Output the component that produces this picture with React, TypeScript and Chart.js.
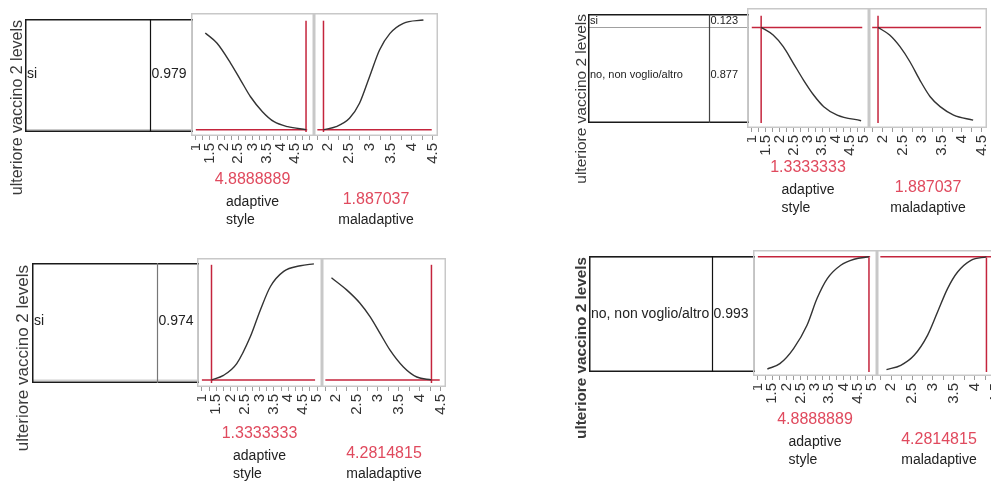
import React, { useEffect, useRef } from 'react';
import { Chart, registerables } from 'chart.js';

Chart.register(...registerables);

const FONT = "'Liberation Sans', Arial, Helvetica, sans-serif";
Chart.defaults.font.family = FONT;

// ---------- data ----------
const responseTitle = 'ulteriore vaccino 2 levels';
const levelNames = ['no, non voglio/altro', 'si'];
const adaptiveName = ['adaptive', 'style'];
const maladaptiveName = ['maladaptive'];

const adaptiveTicks = [1, 1.25, 1.5, 1.75, 2, 2.25, 2.5, 2.75, 3, 3.25, 3.5, 3.75, 4, 4.25, 4.5, 4.75, 5];
const maladaptiveTicks = [1.75, 2, 2.25, 2.5, 2.75, 3, 3.25, 3.5, 3.75, 4, 4.25, 4.5];
const adaptiveRange = [0.83, 5.17];
const maladaptiveRange = [1.66, 4.63];
const adaptiveHLine = [1.0, 4.93];
const maladaptiveHLine = [1.74, 4.48];
const vLineY = [0, 0.985];

// panel 1 (top-left)
const p1Current = ['4.8888889', '1.887037'];
const p1Probs = [0.021, 0.979];
const p1AdaptiveX = [1.333, 1.75, 2.23, 2.58, 2.93, 3.35, 3.76, 4.24, 4.889];
const p1AdaptiveY = [0.876, 0.785, 0.608, 0.46, 0.312, 0.18, 0.091, 0.047, 0.021];
const p1MaladX = [1.887, 2.19, 2.51, 2.75, 2.99, 3.23, 3.48, 3.8, 4.281];
const p1MaladY = [0.021, 0.047, 0.121, 0.254, 0.489, 0.726, 0.873, 0.962, 0.991];

// panel 2 (top-right)
const p2Current = ['1.3333333', '1.887037'];
const p2Probs = [0.877, 0.123];
const p2AdaptiveX = [1.333, 1.76, 2.12, 2.48, 2.84, 3.2, 3.56, 4.04, 4.889];
const p2AdaptiveY = [0.877, 0.807, 0.7, 0.548, 0.394, 0.257, 0.15, 0.073, 0.021];
const p2MaladX = [1.887, 2.18, 2.44, 2.69, 2.94, 3.2, 3.45, 3.79, 4.281];
const p2MaladY = [0.877, 0.807, 0.7, 0.562, 0.394, 0.241, 0.15, 0.073, 0.026];

// panel 3 (bottom-left)
const p3Current = ['1.3333333', '4.2814815'];
const p3Probs = [0.026, 0.974];
const p3AdaptiveX = [1.333, 1.75, 2.21, 2.68, 3.03, 3.38, 3.84, 4.42, 4.889];
const p3AdaptiveY = [0.026, 0.064, 0.162, 0.385, 0.609, 0.804, 0.93, 0.977, 0.993];
const p3MaladX = [1.887, 2.25, 2.57, 2.81, 3.05, 3.29, 3.61, 3.93, 4.281];
const p3MaladY = [0.877, 0.776, 0.665, 0.553, 0.414, 0.274, 0.134, 0.05, 0.026];

// panel 4 (bottom-right)
const p4Current = ['4.8888889', '4.2814815'];
const p4Probs = [0.993, 0.007];
const p4AdaptiveX = [1.333, 1.77, 2.25, 2.72, 3.07, 3.43, 3.9, 4.37, 4.889];
const p4AdaptiveY = [0.026, 0.072, 0.202, 0.403, 0.633, 0.805, 0.92, 0.972, 0.993];
const p4MaladX = [1.887, 2.23, 2.55, 2.87, 3.11, 3.35, 3.59, 3.91, 4.281];
const p4MaladY = [0.021, 0.058, 0.144, 0.316, 0.517, 0.719, 0.862, 0.963, 0.993];

// ---------- layout / styling ----------
const RED_LINE = '#c4243c';
const RED_TEXT = '#e04a5e';

const panels = [
  {
    current: p1Current, probs: p1Probs,
    curves: [[p1AdaptiveX, p1AdaptiveY], [p1MaladX, p1MaladY]],
    L: { titleX: 18, titleTop: 20, titleSize: 16, titleBold: false, boxLeft: 25, boxTop: 19, boxBottom: 132, divider: 150, dividerColor: '#111', labelSize: 14, frameTop: 13, frameBottom: 136, frames: [[191, 314], [314, 438]], textBase: 44 },
  },
  {
    current: p2Current, probs: p2Probs,
    curves: [[p2AdaptiveX, p2AdaptiveY], [p2MaladX, p2MaladY]],
    L: { titleX: 582, titleTop: 14, titleSize: 15.5, titleBold: false, boxLeft: 588, boxTop: 14, boxBottom: 123, divider: 709, dividerColor: '#444', labelSize: 11, frameTop: 8, frameBottom: 128, frames: [[747, 869], [869, 987]], textBase: 40 },
  },
  {
    current: p3Current, probs: p3Probs,
    curves: [[p3AdaptiveX, p3AdaptiveY], [p3MaladX, p3MaladY]],
    L: { titleX: 23, titleTop: 265, titleSize: 17, titleBold: false, boxLeft: 32, boxTop: 263, boxBottom: 383, divider: 157, dividerColor: '#777', labelSize: 14, frameTop: 258, frameBottom: 387, frames: [[197, 322], [322, 446]], textBase: 47 },
  },
  {
    current: p4Current, probs: p4Probs,
    curves: [[p4AdaptiveX, p4AdaptiveY], [p4MaladX, p4MaladY]],
    L: { titleX: 582, titleTop: 257, titleSize: 15.3, titleBold: true, boxLeft: 589, boxTop: 256, boxBottom: 372, divider: 712, dividerColor: '#111', labelSize: 14, frameTop: 250, frameBottom: 376, frames: [[753, 877], [877, 1001]], textBase: 44 },
  },
];

// ---------- plugins ----------
const boxPlugin = {
  id: 'boxDeco',
  afterDraw(chart: any, _args: any, o: any) {
    const { ctx, chartArea: a } = chart;
    ctx.save();
    // outer border (top, left, bottom)
    ctx.strokeStyle = '#1a1a1a';
    ctx.lineWidth = 1.5;
    ctx.beginPath();
    ctx.moveTo(a.right, a.top + 0.75);
    ctx.lineTo(a.left + 0.75, a.top + 0.75);
    ctx.lineTo(a.left + 0.75, a.bottom - 0.75);
    ctx.lineTo(a.right, a.bottom - 0.75);
    ctx.stroke();
    // divider
    ctx.strokeStyle = o.dividerColor;
    ctx.lineWidth = 1.2;
    ctx.beginPath();
    ctx.moveTo(o.dividerX + 0.5, a.top);
    ctx.lineTo(o.dividerX + 0.5, a.bottom);
    ctx.stroke();
    // level labels
    ctx.fillStyle = '#222';
    ctx.font = `${o.labelSize}px ${FONT}`;
    ctx.textBaseline = 'middle';
    ctx.textAlign = 'left';
    chart.data.datasets.forEach((ds: any, i: number) => {
      const v = ds.data[0];
      if (v < 0.05) return;
      const el = chart.getDatasetMeta(i).data[0];
      const cy = (el.y + el.base) / 2;
      ctx.fillText(ds.label, a.left + 2, cy);
      ctx.fillText(v.toFixed(3), o.dividerX + 1.5, cy);
    });
    // response title
    ctx.fillStyle = '#3a3a3a';
    ctx.font = `${o.titleBold ? 'bold ' : ''}${o.titleSize}px ${FONT}`;
    ctx.translate(o.titleX, o.titleY);
    ctx.rotate(-Math.PI / 2);
    ctx.textAlign = 'right';
    ctx.textBaseline = 'middle';
    ctx.fillText(o.title, 0, 0);
    ctx.restore();
  },
};

const framePlugin = {
  id: 'frameText',
  afterDraw(chart: any, _args: any, o: any) {
    const { ctx, chartArea: a } = chart;
    ctx.save();
    ctx.strokeStyle = '#c8c8c8';
    ctx.lineWidth = 1.5;
    ctx.strokeRect(a.left + 0.75, a.top + 0.75, a.right - a.left - 1.5, a.bottom - a.top - 1.5);
    const cx = (a.left + a.right) / 2;
    ctx.textBaseline = 'middle';
    ctx.textAlign = 'center';
    ctx.fillStyle = RED_TEXT;
    ctx.font = `16px ${FONT}`;
    const two = o.lines.length > 1;
    ctx.fillText(o.value, cx, a.bottom + o.base + (two ? 0 : 20));
    ctx.fillStyle = '#222';
    ctx.font = `14px ${FONT}`;
    ctx.textAlign = 'left';
    const w = Math.max(...o.lines.map((l: string) => ctx.measureText(l).width));
    o.lines.forEach((l: string, i: number) => {
      const y = a.bottom + o.base + (two ? 22 + i * 18 : 40);
      ctx.fillText(l, cx - w / 2, y);
    });
    ctx.restore();
  },
};

// ---------- components ----------
function ChartCanvas({ left, top, width, height, make }: any) {
  const ref = useRef<HTMLCanvasElement>(null);
  useEffect(() => {
    const chart = new Chart(ref.current as HTMLCanvasElement, make());
    return () => chart.destroy();
  }, []);
  return (
    <canvas
      ref={ref}
      width={width}
      height={height}
      style={{ position: 'absolute', left, top, width, height }}
    />
  );
}

function BoxChart({ p }: any) {
  const L = p.L;
  const cl = L.titleX - 12;
  const ct = L.boxTop - 3;
  const cw = L.frames[0][0] + 2 - cl;
  const ch = 200;
  const make = () => ({
    type: 'bar',
    data: {
      labels: [''],
      datasets: levelNames.map((name, i) => ({
        label: name,
        data: [p.probs[i]],
        backgroundColor: '#ffffff',
        borderColor: '#a0a0a0',
        borderWidth: 1,
        barPercentage: 1,
        categoryPercentage: 1,
      })),
    },
    options: {
      responsive: false,
      animation: false,
      events: [],
      layout: {
        autoPadding: false,
        padding: { left: L.boxLeft - cl, top: L.boxTop - ct, right: 0, bottom: ch - (L.boxBottom - ct) },
      },
      plugins: {
        legend: { display: false },
        tooltip: { enabled: false },
        boxDeco: {
          dividerX: L.divider - cl,
          dividerColor: L.dividerColor,
          labelSize: L.labelSize,
          title: responseTitle,
          titleX: L.titleX - cl,
          titleY: L.titleTop - ct,
          titleSize: L.titleSize,
          titleBold: L.titleBold,
        },
      },
      scales: {
        x: { display: false, stacked: true },
        y: { display: false, stacked: true, min: 0, max: 1 },
      },
    },
    plugins: [boxPlugin],
  });
  return <ChartCanvas left={cl} top={ct} width={cw} height={ch} make={make} />;
}

function Profiler({ p, idx }: any) {
  const L = p.L;
  const [fl, fr] = L.frames[idx];
  const frameH = L.frameBottom - L.frameTop;
  const bottomSpace = 100;
  const boxH = L.boxBottom - L.boxTop;
  const yMin = -(L.frameBottom - L.boxBottom) / boxH;
  const yMax = 1 + (L.boxTop - L.frameTop) / boxH;
  const isAdaptive = idx === 0;
  const range = isAdaptive ? adaptiveRange : maladaptiveRange;
  const ticks = isAdaptive ? adaptiveTicks : maladaptiveTicks;
  const hLine = isAdaptive ? adaptiveHLine : maladaptiveHLine;
  const [cx, cy] = p.curves[idx];
  const currentX = parseFloat(p.current[idx]);
  const currentY = p.probs[0];
  const make = () => ({
    type: 'line',
    data: {
      datasets: [
        {
          data: cx.map((x: number, i: number) => ({ x, y: cy[i] })),
          borderColor: '#333333',
          borderWidth: 1.4,
          pointRadius: 0,
          cubicInterpolationMode: 'monotone',
          fill: false,
        },
        {
          data: hLine.map((x) => ({ x, y: currentY })),
          borderColor: RED_LINE,
          borderWidth: 1.5,
          pointRadius: 0,
        },
        {
          data: vLineY.map((y) => ({ x: currentX, y })),
          borderColor: RED_LINE,
          borderWidth: 1.5,
          pointRadius: 0,
        },
      ],
    },
    options: {
      responsive: false,
      animation: false,
      events: [],
      layout: { autoPadding: false, padding: 0 },
      plugins: {
        legend: { display: false },
        tooltip: { enabled: false },
        frameText: {
          value: p.current[idx],
          lines: isAdaptive ? adaptiveName : maladaptiveName,
          base: L.textBase,
        },
      },
      scales: {
        x: {
          type: 'linear',
          min: range[0],
          max: range[1],
          afterBuildTicks: (s: any) => {
            s.ticks = ticks.map((v) => ({ value: v }));
          },
          afterFit: (s: any) => {
            s.height = bottomSpace;
            s.paddingLeft = 0;
            s.paddingRight = 0;
          },
          ticks: {
            autoSkip: false,
            minRotation: 90,
            maxRotation: 90,
            padding: 3,
            color: '#333',
            font: { size: 15 },
            callback: (v: number) => (Math.abs(v * 2 - Math.round(v * 2)) < 1e-9 ? String(v) : ''),
          },
          grid: { drawOnChartArea: false, drawTicks: true, tickLength: 4, color: '#9a9a9a' },
          border: { display: false },
        },
        y: { display: false, min: yMin, max: yMax },
      },
    },
    plugins: [framePlugin],
  });
  return <ChartCanvas left={fl} top={L.frameTop} width={fr - fl} height={frameH + bottomSpace} make={make} />;
}

export default function App() {
  return (
    <div
      style={{
        position: 'absolute',
        left: 0,
        top: 0,
        width: 991,
        height: 485,
        overflow: 'hidden',
        background: '#ffffff',
      }}
    >
      {panels.map((p, i) => (
        <React.Fragment key={i}>
          <BoxChart p={p} />
          <Profiler p={p} idx={0} />
          <Profiler p={p} idx={1} />
        </React.Fragment>
      ))}
    </div>
  );
}
